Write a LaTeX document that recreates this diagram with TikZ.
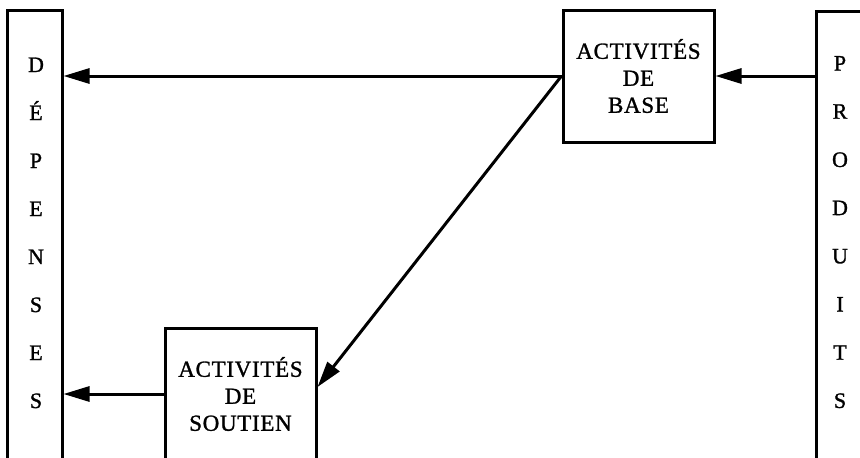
\documentclass[tikz,border=0pt]{standalone}
\usepackage{fontspec}
\setmainfont{Liberation Serif}
\usetikzlibrary{arrows.meta,positioning,calc}

\tikzset{
  bloc/.style={draw, line width=3pt, minimum width=151pt, minimum height=132pt,
    align=center, inner sep=0pt,
    font=\fontsize{23}{27}\selectfont\addfontfeature{LetterSpace=3,FakeBold=1.2}},
  colonne/.style={draw, line width=3pt, minimum height=600pt, anchor=north, inner sep=0pt},
  lettre/.style={font=\fontsize{22}{24}\selectfont\addfontfeature{FakeBold=1.2}, anchor=base, inner sep=0pt},
  fleche/.style={line width=3pt, -{Triangle[length=26pt,width=15pt]}}
}

\begin{document}
\begin{tikzpicture}[x=1pt,y=-1pt]
	\useasboundingbox (0,0) rectangle (860,458);
	\clip (0,0) rectangle (860,458);
	% colonnes laterales
	\node[colonne, minimum width=55pt] (depenses) at (34.5,9) {};
	\node[colonne, minimum width=48pt] (produits) at (840,10) {};
	\foreach \l [count=\i from 0] in {D,É,P,E,N,S,E,S}
		\node[lettre] (dep\i) at (36,72+48*\i) {\l};
	\foreach \l [count=\i from 0] in {P,R,O,D,U,I,T,S}
		\node[lettre] (prod\i) at (840,70.5+48.2*\i) {\l};
	% activites
	\node[bloc] (base) at (638.5,76) {ACTIVITÉS\\DE\\BASE};
	\node[bloc] (soutien) at (240.5,394) {ACTIVITÉS\\DE\\SOUTIEN};
	% fleches
	\draw[fleche] (base.east -| produits.west) -- (base.east);
	\draw[fleche] (base.west) -- (base.west -| depenses.east);
	\draw[fleche] (base.west) -- ([yshift=7pt]soutien.east);
	\draw[fleche] (soutien.west) -- (soutien.west -| depenses.east);
\end{tikzpicture}
\end{document}
